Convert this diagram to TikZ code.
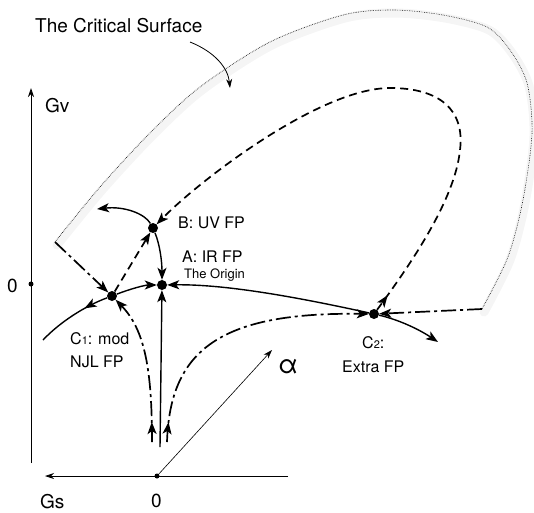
\documentclass[tikz,border=0pt]{standalone}
\usepackage{fontspec}
\setmainfont{TeX Gyre Heros}
\usepackage{tikz}
\usetikzlibrary{arrows.meta,decorations.markings}
\tikzset{
    fixed point/.style={circle,fill=black,inner sep=0pt,minimum size=10pt},
    axis dot/.style={circle,fill=black,inner sep=0pt,minimum size=5pt},
    flow/.style={line width=1.4pt},
    uv flow/.style={line width=1.7pt,dash pattern=on 8pt off 5pt},
    side flow/.style={line width=1.7pt,dash pattern=on 15pt off 4pt on 3pt off 4pt},
    axis line/.style={line width=0.8pt,-{Stealth[length=9pt,width=6pt]}},
    surface/.style={line width=0.6pt,dash pattern=on 0.6pt off 1.1pt},
    glow/.style={preaction={draw=black!4,line width=9pt,solid,line cap=round,
        transform canvas={shift={(2pt,-3pt)}}}},
    fp label/.style={font=\fontsize{16}{18}\selectfont,inner sep=0pt,anchor=base west},
    big label/.style={font=\fontsize{19}{21}\selectfont,inner sep=0pt,anchor=base west},
    mid arrow/.style={postaction={decorate,decoration={markings,
        mark=at position #1 with {\arrow{>}}}}},
    >={Stealth[length=12pt,width=9pt,inset=3pt]}
}

\begin{document}
\begin{tikzpicture}[x=1pt,y=-1pt]
\useasboundingbox (0,0) rectangle (534,512);

% the critical surface
\coordinate (s_left) at (55,242);
\coordinate (s_right) at (482,309);
\draw[surface,glow] plot[smooth] coordinates {(s_left) (100,187) (150,133) (200,87)
    (270,42) (343,15) (393,10) (443,15) (487,27) (510,50) (527,83) (532,133)
    (523,200) (508,257) (s_right)};
\node[big label] (title) at (35,32) {The Critical Surface};
\coordinate (t_from) at (190,42);
\coordinate (t_to) at (230,88);
\draw[line width=0.8pt,-{Stealth[length=9pt,width=6pt]}] (t_from) .. controls (215,52) and (228,68) .. (t_to);

% fixed points
\foreach \n/\x/\y in {A/162/285,B/153/228,C1/112/296,C2/374/314}
    \node[fixed point] (\n) at (\x,\y) {};

% axes
\coordinate (gv_bot) at (31,463);
\coordinate (gv_top) at (31,88);
\coordinate (gs_right) at (288,476);
\coordinate (gs_left) at (45,476);
\coordinate (al_tip) at (272,350);
\node[axis dot] (zv) at (31,284) {};
\node[axis dot] (O) at (157,476) {};
\draw[axis line] (gv_bot) -- (gv_top);
\draw[axis line] (gs_right) -- (gs_left);
\draw[axis line,line width=0.6pt] (O) -- (al_tip);

\node[big label] (gv_lab) at (45,112) {Gv};
\node[big label] (zv_lab) at (7,292) {0};
\node[big label] (gs_lab) at (40,508) {Gs};
\node[big label] (zs_lab) at (151,507) {0};
\node[big label,font=\fontsize{26}{28}\selectfont] (al_lab) at (278,373) {α};

% flows on the surface
\draw[side flow,->] (s_left) -- (C1);
\draw[side flow,->] (s_right) -- (C2);
\draw[uv flow,->] (C1) -- (B);
\draw[uv flow,->,mid arrow=18pt] (C2) .. controls (410,265) and (455,200) .. (460,150)
    .. controls (465,110) and (440,88) .. (390,88)
    .. controls (320,88) and (200,180) .. (B);

% solid flows
\coordinate (b_end) at (97,209);
\coordinate (c1_end) at (43,340);
\coordinate (c2_end) at (438,342);
\coordinate (a_bot) at (160,447);
\draw[flow,->] (B) .. controls (160,245) and (162,262) .. (A);
\draw[flow,->] (B) .. controls (145,214) and (125,206) .. (b_end);
\draw[flow,->] (C1) .. controls (130,289) and (145,285) .. (A);
\draw[flow,mid arrow=25pt] (C1) .. controls (85,306) and (60,322) .. (c1_end);
\draw[flow,->] (C2) .. controls (310,300) and (230,284) .. (A);
\draw[flow,->] (C2) .. controls (400,320) and (420,330) .. (c2_end);
\draw[flow,->] (a_bot) -- (A);

% flows from below
\coordinate (d_left) at (152,442);
\coordinate (d_right) at (167,442);
\draw[side flow,->,mid arrow=20pt] (d_left) .. controls (152,370) and (145,330) .. (C1);
\draw[side flow,->,mid arrow=20pt] (d_right) .. controls (170,350) and (220,312) .. (C2);

% labels of the fixed points
\node[fp label] (b_lab) at (178,228) {B: UV FP};
\node[fp label] (a_lab) at (182,262) {A: IR FP};
\node[fp label,font=\fontsize{13}{15}\selectfont] (o_lab) at (184,278) {The Origin};
\node[fp label] (c1_lab) at (70,344) {C{\fontsize{11}{11}\selectfont 1}: mod};
\node[fp label] (njl_lab) at (70,367) {NJL FP};
\node[fp label] (c2_lab) at (362,348) {C{\fontsize{11}{11}\selectfont 2}:};
\node[fp label] (ex_lab) at (342,372) {Extra FP};
\end{tikzpicture}
\end{document}
